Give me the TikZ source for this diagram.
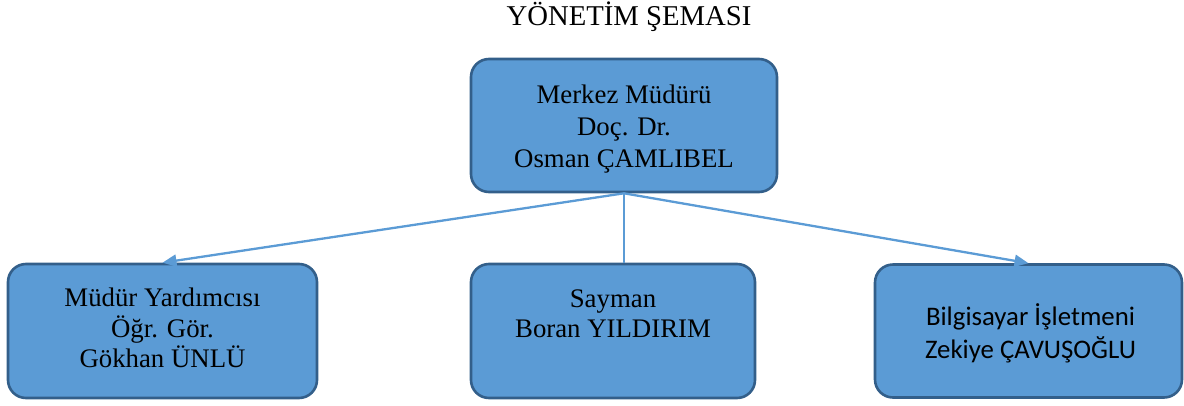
\documentclass[tikz,border=0pt]{standalone}
\usepackage{fontspec}
\setmainfont{Liberation Serif}
\newfontfamily\calibrifont{Carlito}
\usetikzlibrary{arrows.meta}
\definecolor{boxfill}{HTML}{5B9BD5}
\definecolor{boxline}{HTML}{335F8A}
\definecolor{conn}{HTML}{5B9BD5}
\begin{document}
\begin{tikzpicture}[x=1pt,y=-1pt,
  orgbox/.style={draw=boxline, line width=2.6pt, fill=boxfill, rounded corners=18pt, inner sep=0pt},
  txt/.style={anchor=base, inner sep=0pt, font=\fontsize{26.8}{30}\selectfont},
  ctxt/.style={anchor=base, inner sep=0pt, font=\calibrifont\fontsize{26.8}{30}\selectfont},
  conline/.style={draw=conn, line width=2.3pt},
  conarrow/.style={conline, -{Triangle[length=14pt,width=12pt]}}]
\useasboundingbox (0,0) rectangle (1184,405);
% title
\node[anchor=base, inner sep=0pt, font=\fontsize{28.7}{32}\selectfont] (title) at (629,25) {YÖNETİM ŞEMASI};
% boxes
\node[orgbox, minimum width=306pt, minimum height=133pt] (top) at (624,125.5) {};
\node[orgbox, minimum width=309pt, minimum height=134pt] (left) at (162.5,331) {};
\node[orgbox, minimum width=284pt, minimum height=134pt] (mid) at (613,331) {};
\node[orgbox, minimum width=307pt, minimum height=133pt] (right) at (1028.5,331) {};
% texts
\node[txt] (t1) at (624,103) {Merkez Müdürü};
\node[txt] (t2) at (624,135) {Doç. Dr.};
\node[txt] (t3) at (624,167) {Osman ÇAMLIBEL};
\node[txt] (l1) at (162.5,306) {Müdür Yardımcısı};
\node[txt] (l2) at (162.5,337) {Öğr. Gör.};
\node[txt] (l3) at (162.5,367) {Gökhan ÜNLÜ};
\node[txt] (m1) at (613,307) {Sayman};
\node[txt] (m2) at (613,337) {Boran YILDIRIM};
\node[ctxt] (r1) at (1030.5,325) {Bilgisayar İşletmeni};
\node[ctxt] (r2) at (1030.5,358) {Zekiye ÇAVUŞOĞLU};
% connectors
\coordinate (src) at (top.south);
\draw[conarrow] (src) -- (left.north);
\draw[conline] (src) -- (src |- mid.north);
\draw[conarrow] (src) -- (right.north);
\end{tikzpicture}
\end{document}
